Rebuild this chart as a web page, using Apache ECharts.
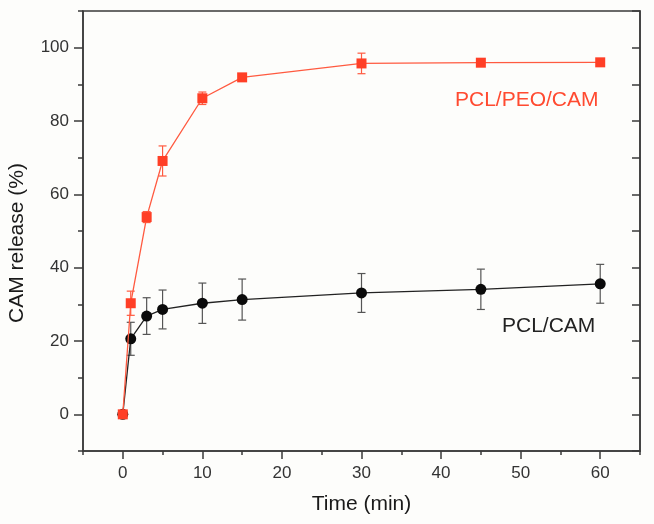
<!DOCTYPE html>
<html>
<head>
<meta charset="utf-8">
<script src="https://cdn.jsdelivr.net/npm/echarts@6/dist/echarts.min.js"></script>
<style>
html,body{margin:0;padding:0;background:#fdfdfb;}
#c{width:654px;height:524px;}
</style>
</head>
<body>
<div id="c"></div>
<script>
// Data
const times = [0, 1, 3, 5, 10, 15, 30, 45, 60];
const peoRelease = [0, 30.3, 53.8, 69.1, 86.2, 91.9, 95.7, 95.9, 96.0];
const peoError = [0, 3.3, 1.5, 4.1, 1.7, 0.5, 2.8, 1.0, 0];
const pclRelease = [0, 20.6, 26.8, 28.6, 30.3, 31.3, 33.1, 34.1, 35.6];
const pclError = [0, 4.5, 5.0, 5.3, 5.5, 5.6, 5.3, 5.5, 5.3];
const xTickLabels = [0, 10, 20, 30, 40, 50, 60];
const yTickLabels = [0, 20, 40, 60, 80, 100];
const seriesNames = ['PCL/PEO/CAM', 'PCL/CAM'];

const FONT = 'Liberation Sans, Arial, Helvetica, sans-serif';
const RED = '#ff3f26';
const RED_LINE = '#ff5a40';
const BLACK = '#0a0a0a';
const AX = '#3a3a3a';

function pairs(xs, ys) { return xs.map((x, i) => [x, ys[i]]); }
function errs(xs, ys, es) { return xs.map((x, i) => [x, ys[i] - es[i], ys[i] + es[i]]); }

function errRender(color) {
  return function (params, api) {
    const x = api.value(0), lo = api.value(1), hi = api.value(2);
    if (hi - lo <= 0) return null;
    const p1 = api.coord([x, lo]);
    const p2 = api.coord([x, hi]);
    const w = 4;
    const style = { stroke: color, lineWidth: 1.2, fill: null };
    return {
      type: 'group',
      children: [
        { type: 'line', shape: { x1: p1[0], y1: p1[1], x2: p2[0], y2: p2[1] }, style },
        { type: 'line', shape: { x1: p1[0] - w, y1: p1[1], x2: p1[0] + w, y2: p1[1] }, style },
        { type: 'line', shape: { x1: p2[0] - w, y1: p2[1], x2: p2[0] + w, y2: p2[1] }, style }
      ]
    };
  };
}

const chart = echarts.init(document.getElementById('c'), null, { renderer: 'canvas' });

const labelStyle = { color: '#333', fontSize: 17, fontFamily: FONT };
const lineOn = { show: true, onZero: false, lineStyle: { color: AX, width: 1.5 } };
const lineOff = { show: false, onZero: false };

chart.setOption({
  backgroundColor: '#fdfdfb',
  animation: false,
  grid: { left: 83, right: 14, top: 11, bottom: 73, show: true, borderColor: AX, borderWidth: 1.5, backgroundColor: 'transparent' },
  xAxis: [
    {
      type: 'value', min: -5, max: 65, interval: 5, position: 'bottom',
      axisLine: lineOn,
      axisTick: { show: true, inside: false, length: 4, lineStyle: { color: AX, width: 1.5 } },
      axisLabel: { show: false },
      splitLine: { show: false },
      name: 'Time (min)', nameLocation: 'middle', nameGap: 43,
      nameTextStyle: { color: '#1a1a1a', fontSize: 21, fontFamily: FONT }
    },
    {
      type: 'value', min: -5, max: 65, position: 'bottom', gridIndex: 0,
      axisLine: lineOff,
      axisTick: { show: true, inside: false, length: 8, customValues: xTickLabels, lineStyle: { color: AX, width: 1.5 } },
      axisLabel: Object.assign({ show: true, margin: 14, customValues: xTickLabels }, labelStyle),
      splitLine: { show: false }
    }
  ],
  yAxis: [
    {
      type: 'value', min: -10, max: 110, interval: 10, position: 'left',
      axisLine: lineOn,
      axisTick: { show: true, inside: false, length: 5, lineStyle: { color: AX, width: 1.5 } },
      axisLabel: { show: false },
      splitLine: { show: false }
    },
    {
      type: 'value', min: -10, max: 110, position: 'left', gridIndex: 0,
      axisLine: lineOff,
      axisTick: { show: true, inside: false, length: 9, customValues: yTickLabels, lineStyle: { color: AX, width: 1.5 } },
      axisLabel: Object.assign({ show: true, margin: 14, customValues: yTickLabels }, labelStyle),
      splitLine: { show: false }
    },
    {
      type: 'value', min: -10, max: 110, interval: 10, position: 'right', gridIndex: 0,
      axisLine: lineOn,
      axisTick: { show: true, inside: true, length: 8, lineStyle: { color: AX, width: 1.5 } },
      axisLabel: { show: false },
      splitLine: { show: false }
    }
  ],
  series: [
    {
      name: seriesNames[1], type: 'line', xAxisIndex: 0, yAxisIndex: 0, z: 2,
      data: pairs(times, pclRelease),
      symbol: 'circle', symbolSize: 11,
      itemStyle: { color: BLACK },
      lineStyle: { color: '#222', width: 1.3 }
    },
    {
      name: seriesNames[1] + ' err', type: 'custom', xAxisIndex: 0, yAxisIndex: 0, z: 1,
      data: errs(times, pclRelease, pclError),
      renderItem: errRender('#555'),
      encode: { x: 0, y: [1, 2] }
    },
    {
      name: seriesNames[0], type: 'line', xAxisIndex: 0, yAxisIndex: 0, z: 4,
      data: pairs(times, peoRelease),
      symbol: 'rect', symbolSize: 10,
      itemStyle: { color: RED },
      lineStyle: { color: RED_LINE, width: 1.3 }
    },
    {
      name: seriesNames[0] + ' err', type: 'custom', xAxisIndex: 0, yAxisIndex: 0, z: 3,
      data: errs(times, peoRelease, peoError),
      renderItem: errRender(RED_LINE),
      encode: { x: 0, y: [1, 2] }
    }
  ],
  graphic: [
    {
      type: 'text', left: 455, top: 90,
      style: { text: seriesNames[0], fill: '#ff4a30', fontSize: 21, fontFamily: FONT }
    },
    {
      type: 'text', left: 502, top: 316,
      style: { text: seriesNames[1], fill: '#222', fontSize: 21, fontFamily: FONT }
    },
    {
      type: 'text', x: 17, y: 243, rotation: Math.PI / 2,
      style: { text: 'CAM release (%)', fill: '#1a1a1a', fontSize: 21, fontFamily: FONT, align: 'center', verticalAlign: 'middle' }
    }
  ]
});
</script>
</body>
</html>
